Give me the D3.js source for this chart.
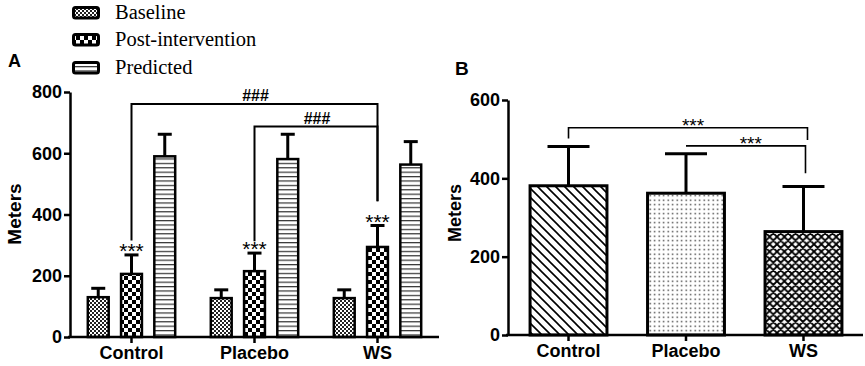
<!DOCTYPE html>
<html><head><meta charset="utf-8">
<script src="https://cdn.jsdelivr.net/npm/d3@7/dist/d3.min.js"></script>
<style>
body{margin:0;background:#fff;}
svg{display:block;}
.tick text{font-family:"Liberation Sans",Arial,sans-serif;font-weight:bold;font-size:18px;fill:#000;}
</style></head>
<body>
<svg id="chart" width="865" height="366"></svg>
<script>
// ---------- DATA ----------
const groups = ["Control", "Placebo", "WS"];
const seriesA = ["Baseline", "Post-intervention", "Predicted"];
const baselineMean = [130, 127, 127];
const baselineErr = [29, 27, 27];
const postMean = [206, 215, 294];
const postErr = [62, 59, 70];
const predictedMean = [590, 581, 563];
const predictedErr = [72, 81, 75];
const yTicksA = [0, 200, 400, 600, 800];
const postStars = ["***", "***", "***"];
const bracketsA = [
  {from: "Control", to: "WS", y: 761, fromLeg: 315, toLeg: 443, label: "###"},
  {from: "Placebo", to: "WS", y: 687, fromLeg: 313, toLeg: 443, label: "###"}
];

const meansB = [381, 362, 264];
const errB = [100, 101, 115];
const yTicksB = [0, 200, 400, 600];
const bracketsB = [
  {from: "Control", to: "WS", y: 529, fromLeg: 502, toLeg: 498, label: "***"},
  {from: "Placebo", to: "WS", y: 483, fromLeg: 483, toLeg: 413, label: "***"}
];

const svg = d3.select("#chart");
const defs = svg.append("defs");

// ---------- PATTERNS ----------
function pat(id, w, h, draw) {
  const p = defs.append("pattern").attr("id", id).attr("patternUnits", "userSpaceOnUse")
    .attr("width", w).attr("height", h);
  p.append("rect").attr("width", w).attr("height", h).attr("fill", "#fff");
  draw(p);
}
pat("pBaseline", 4, 4, p => {
  p.append("rect").attr("x", 0).attr("y", 0).attr("width", 2).attr("height", 2).attr("fill", "#222");
  p.append("rect").attr("x", 2).attr("y", 2).attr("width", 2).attr("height", 2).attr("fill", "#222");
});
pat("pPost", 8, 8, p => {
  p.append("rect").attr("x", 0).attr("y", 0).attr("width", 4).attr("height", 4).attr("fill", "#000");
  p.append("rect").attr("x", 4).attr("y", 4).attr("width", 4).attr("height", 4).attr("fill", "#000");
});
pat("pPred", 4, 4.4, p => {
  p.append("rect").attr("x", 0).attr("y", 0).attr("width", 4).attr("height", 1.2).attr("fill", "#333");
});
pat("pDiag", 9, 9, p => {
  p.append("path").attr("d", "M-1,-1L10,10M-1,8L1,10M8,-1L10,1")
    .attr("stroke", "#000").attr("stroke-width", 1.6);
});
pat("pDots", 4.5, 4.5, p => {
  p.append("rect").attr("x", 1.5).attr("y", 1.5).attr("width", 1.4).attr("height", 1.4).attr("fill", "#333");
});
pat("pCross", 7.4, 7.4, p => {
  p.append("path").attr("d", "M-1,-1L8.4,8.4M-1,6.4L1,8.4M6.4,-1L8.4,1M8.4,-1L-1,8.4M1,-1L-1,1M8.4,6.4L6.4,8.4")
    .attr("stroke", "#000").attr("stroke-width", 1.8);
});
const fillsA = ["url(#pBaseline)", "url(#pPost)", "url(#pPred)"];
const fillsB = ["url(#pDiag)", "url(#pDots)", "url(#pCross)"];

const font = '"Liberation Sans",Arial,sans-serif';

// ---------- PANEL A ----------
const yA = d3.scaleLinear().domain([0, 800]).range([337, 92]);
const x0A = d3.scaleBand().domain(groups).range([70, 439]).paddingInner(0.27).paddingOuter(0.135);
const x1A = d3.scaleBand().domain(seriesA).range([0, x0A.bandwidth()]).paddingInner(0.3);
const meansA = [baselineMean, postMean, predictedMean];
const errsA = [baselineErr, postErr, predictedErr];

const gA = svg.append("g");
const dataA = [];
groups.forEach((g, gi) => seriesA.forEach((s, si) => dataA.push({g, s, si, v: meansA[si][gi], e: errsA[si][gi]})));

// error bars
const capA = 14;
gA.selectAll(".errA").data(dataA).join("g").each(function(d) {
  const cx = x0A(d.g) + x1A(d.s) + x1A.bandwidth() / 2;
  const sel = d3.select(this);
  sel.append("line").attr("x1", cx).attr("x2", cx).attr("y1", yA(d.v)).attr("y2", yA(d.v + d.e))
    .attr("stroke", "#000").attr("stroke-width", 3);
  sel.append("line").attr("x1", cx - capA / 2).attr("x2", cx + capA / 2).attr("y1", yA(d.v + d.e)).attr("y2", yA(d.v + d.e))
    .attr("stroke", "#000").attr("stroke-width", 3);
});
gA.selectAll(".barA").data(dataA).join("rect")
  .attr("x", d => x0A(d.g) + x1A(d.s) + 1.2)
  .attr("width", x1A.bandwidth() - 2.4)
  .attr("y", d => yA(d.v))
  .attr("height", d => yA(0) - yA(d.v))
  .attr("fill", d => fillsA[d.si])
  .attr("stroke", "#000").attr("stroke-width", 2.5);

// stars above post bars
gA.selectAll(".starA").data(groups).join("text")
  .attr("x", (g) => x0A(g) + x1A("Post-intervention") + x1A.bandwidth() / 2)
  .attr("y", (g, i) => yA(postMean[i] + postErr[i]) + 3)
  .attr("text-anchor", "middle").attr("font-family", font).attr("font-size", 21)
  .text((g, i) => postStars[i]);

// brackets
const ctrA = g => x0A(g) + x1A("Post-intervention") + x1A.bandwidth() / 2;
bracketsA.forEach(b => {
  const xa = ctrA(b.from), xb = ctrA(b.to);
  gA.append("path")
    .attr("d", `M${xa},${yA(b.fromLeg)}V${yA(b.y)}H${xb}V${yA(b.toLeg)}`)
    .attr("fill", "none").attr("stroke", "#000").attr("stroke-width", 2);
  gA.append("text").attr("x", (xa + xb) / 2 + 1).attr("y", yA(b.y) - 3)
    .attr("text-anchor", "middle").attr("font-family", font).attr("font-size", 16).attr("font-weight", "bold")
    .text(b.label);
});

// axes A
const axYA = gA.append("g").attr("transform", "translate(70,0)")
  .call(d3.axisLeft(yA).tickValues(yTicksA).tickSize(6).tickPadding(2).tickSizeOuter(0));
const axXA = gA.append("g").attr("transform", "translate(0,337)")
  .call(d3.axisBottom(x0A).tickSize(6).tickSizeOuter(0).tickPadding(3));
axXA.select(".domain").attr("d", "M68,0H439");
[axYA, axXA].forEach(a => {
  a.select(".domain").attr("stroke", "#000").attr("stroke-width", 2.5);
  a.selectAll(".tick line").attr("stroke", "#000").attr("stroke-width", 2.5);
});
axXA.selectAll(".tick text").attr("dy", "0.71em");

gA.append("text").attr("transform", "translate(21,214) rotate(-90)")
  .attr("text-anchor", "middle").attr("font-family", font).attr("font-weight", "bold").attr("font-size", 19)
  .text("Meters");
gA.append("text").attr("x", 8).attr("y", 67).attr("font-family", font).attr("font-weight", "bold").attr("font-size", 18).text("A");

// legend
const legY = [6, 33, 61];
const leg = svg.append("g");
seriesA.forEach((s, i) => {
  leg.append("rect").attr("x", 73.5).attr("y", legY[i] + 1.5).attr("width", 25).attr("height", 10.5)
    .attr("rx", 2).attr("fill", fillsA[i]).attr("stroke", "#000").attr("stroke-width", 3);
  leg.append("text").attr("x", 115).attr("y", legY[i] + 12.5)
    .attr("font-family", '"Liberation Serif","Times New Roman",serif').attr("font-size", 20.5).text(s);
});

// ---------- PANEL B ----------
const yB = d3.scaleLinear().domain([0, 600]).range([335, 100]);
const xB = d3.scaleBand().domain(groups).range([510, 862]).paddingInner(0.32).paddingOuter(0.158);
const gB = svg.append("g");
const dataB = groups.map((g, i) => ({g, i, v: meansB[i], e: errB[i]}));
const capB = 42;
gB.selectAll(".errB").data(dataB).join("g").each(function(d) {
  const cx = xB(d.g) + xB.bandwidth() / 2;
  const sel = d3.select(this);
  sel.append("line").attr("x1", cx).attr("x2", cx).attr("y1", yB(d.v)).attr("y2", yB(d.v + d.e))
    .attr("stroke", "#000").attr("stroke-width", 3);
  sel.append("line").attr("x1", cx - capB / 2).attr("x2", cx + capB / 2).attr("y1", yB(d.v + d.e)).attr("y2", yB(d.v + d.e))
    .attr("stroke", "#000").attr("stroke-width", 3);
});
gB.selectAll(".barB").data(dataB).join("rect")
  .attr("x", d => xB(d.g) + 1.5)
  .attr("width", xB.bandwidth() - 3)
  .attr("y", d => yB(d.v))
  .attr("height", d => yB(0) - yB(d.v))
  .attr("fill", d => fillsB[d.i])
  .attr("stroke", "#000").attr("stroke-width", 3);

const ctrB = g => xB(g) + xB.bandwidth() / 2;
bracketsB.forEach((b, bi) => {
  const xa = ctrB(b.from), xb = ctrB(b.to) + (bi === 0 ? 4 : 2);
  gB.append("path")
    .attr("d", `M${xa},${yB(b.fromLeg)}V${yB(b.y)}H${xb}V${yB(b.toLeg)}`)
    .attr("fill", "none").attr("stroke", "#000").attr("stroke-width", 1.6);
  gB.append("text").attr("x", (xa + xb) / 2 + 5).attr("y", yB(b.y) + 4)
    .attr("text-anchor", "middle").attr("font-family", font).attr("font-size", 19)
    .text(b.label);
});

const axYB = gB.append("g").attr("transform", "translate(508,0)")
  .call(d3.axisLeft(yB).tickValues(yTicksB).tickSize(6).tickPadding(2).tickSizeOuter(0));
const axXB = gB.append("g").attr("transform", "translate(0,335)")
  .call(d3.axisBottom(xB).tickSize(6).tickSizeOuter(0).tickPadding(3));
axXB.select(".domain").attr("d", "M506,0H863");
[axYB, axXB].forEach(a => {
  a.select(".domain").attr("stroke", "#000").attr("stroke-width", 2.5);
  a.selectAll(".tick line").attr("stroke", "#000").attr("stroke-width", 2.5);
});
axXB.selectAll(".tick text").attr("dy", "0.71em");

gB.append("text").attr("transform", "translate(461,213) rotate(-90)")
  .attr("text-anchor", "middle").attr("font-family", font).attr("font-weight", "bold").attr("font-size", 18)
  .text("Meters");
gB.append("text").attr("x", 455).attr("y", 75).attr("font-family", font).attr("font-weight", "bold").attr("font-size", 19).text("B");
</script>
</body></html>
